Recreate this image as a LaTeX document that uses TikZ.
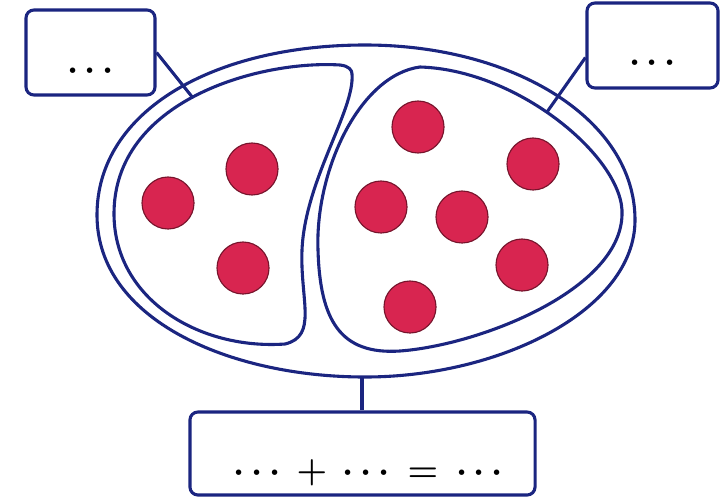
\documentclass[tikz,border=0pt]{standalone}
\usepackage{xcolor}
\usepackage{amssymb}
\usepackage{tikz}

\definecolor{inkblue}{HTML}{1B2580}
\definecolor{ballred}{HTML}{D82550}

\tikzset{
  rim/.style={draw=inkblue, line width=2.2pt},
  answerbox/.style={draw=inkblue, line width=2.2pt, rounded corners=0.2cm, fill=white,
    inner sep=2pt, font=\fontsize{28}{32}\selectfont\boldmath},
  ball/.style={circle, fill=ballred, draw=ballred!55!black, line width=0.8pt, minimum size=1.3cm, inner sep=0pt}
}

\begin{document}
\begin{tikzpicture}[x=0.025cm, y=-0.025cm]
\useasboundingbox (0,0) rectangle (727,499);
% outer set
\draw[rim] (365,45) .. controls (515,45) and (635,120) .. (635,220)
  .. controls (635,310) and (500,377) .. (365,377)
  .. controls (230,377) and (97,320) .. (97,215)
  .. controls (97,110) and (215,45) .. (365,45) -- cycle;
% left part
\draw[rim] (352,74) .. controls (355,110) and (305,180) .. (302,250)
  .. controls (300,300) and (318,336) .. (285,344)
  .. controls (200,350) and (115,300) .. (114,215)
  .. controls (113,100) and (260,60) .. (340,65)
  .. controls (349,66) and (352,70) .. (352,74) -- cycle;
% right part
\draw[rim] (318,250) .. controls (315,170) and (360,75) .. (420,67)
  .. controls (520,70) and (625,160) .. (622,215)
  .. controls (620,290) and (480,345) .. (400,351)
  .. controls (340,355) and (320,320) .. (318,250) -- cycle;
% counters
\foreach \name/\pos in {l1/{(168,203)}, l2/{(252,169)}, l3/{(243,268)},
  r1/{(418,127)}, r2/{(533,164)}, r3/{(381,207)},
  r4/{(462,217)}, r5/{(522,265)}, r6/{(410,307)}}
  \node[ball] (\name) at \pos {};
% boxes
\node[answerbox, minimum width=3.225cm, minimum height=2.125cm, text height=1.4cm, text depth=0.03cm]
  (lbox) at (90.5,52.5) {$\cdots$};
\node[answerbox, minimum width=3.275cm, minimum height=2.125cm, text height=1.35cm, text depth=0.03cm]
  (rbox) at (652.5,45.5) {$\cdots$};
\node[answerbox, minimum width=8.625cm, minimum height=2.075cm, text height=1.45cm, text depth=0.03cm]
  (sum) at (362.5,453.5) {\hspace{0.3cm}$\cdots\,+\,\cdots\,=\,\cdots$};
% links
\coordinate (lend) at (193,98);
\coordinate (rend) at (547,112);
\coordinate (ebot) at (362,377);
\draw[rim] (lbox.east) -- (lend);
\draw[rim] ([yshift=-0.3cm]rbox.west) -- (rend);
\draw[rim] (ebot) -- (ebot |- sum.north);
\end{tikzpicture}
\end{document}
